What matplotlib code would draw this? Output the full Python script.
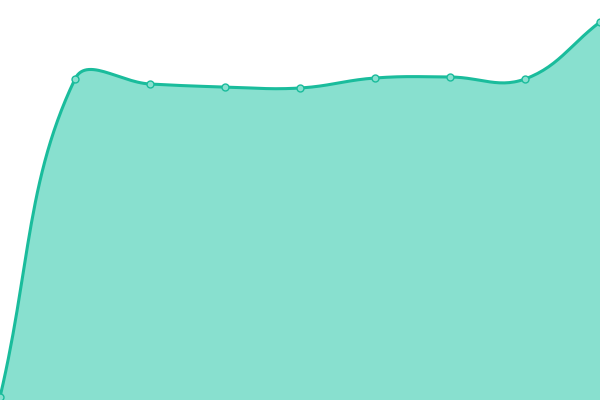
import numpy as np
import matplotlib
matplotlib.use("Agg")
import matplotlib.pyplot as plt

labels = ["1", "2", "3", "4", "5", "6", "7", "8", "9"]
values = [3, 321, 316, 313, 312, 322, 323, 321, 378]

LINE = "#1abc9c"
FILL = "#88e0cf"


def spline_path(px, tension=0.4, steps=30):
    """Bezier path through pixel points, like a chart.js tension curve."""
    n = len(px)
    cps = []
    for i in range(n):
        prev = px[max(i - 1, 0)]
        cur = px[i]
        nxt = px[min(i + 1, n - 1)]
        d01 = np.hypot(*(cur - prev))
        d12 = np.hypot(*(nxt - cur))
        s = d01 + d12
        fa = tension * d01 / s if s else 0
        fb = tension * d12 / s if s else 0
        cps.append((cur - fa * (nxt - prev), cur + fb * (nxt - prev)))
    out = [px[0]]
    t = np.linspace(0, 1, steps)[1:, None]
    for i in range(n - 1):
        p0, p3 = px[i], px[i + 1]
        c1, c2 = cps[i][1], cps[i + 1][0]
        seg = ((1 - t) ** 3 * p0 + 3 * (1 - t) ** 2 * t * c1
               + 3 * (1 - t) * t ** 2 * c2 + t ** 3 * p3)
        out.extend(seg)
    return np.array(out)


fig = plt.figure(figsize=(6, 4), dpi=100)
ax = fig.add_axes([0, 0, 1, 1])
x = np.arange(len(values))
ax.set_xlim(0, len(values) - 1)
ax.set_ylim(0, 400)
ax.axis("off")

pts = ax.transData.transform(np.column_stack([x, values]))
curve = ax.transData.inverted().transform(spline_path(pts))

ax.fill_between(curve[:, 0], curve[:, 1], 0, color=FILL, lw=0)
ax.plot(curve[:, 0], curve[:, 1], color=LINE, lw=2.2, solid_capstyle="round")
ax.plot(x, values, "o", ms=5, mfc=FILL, mec=LINE, mew=1, clip_on=False)

fig.savefig("out.png", dpi=100)
